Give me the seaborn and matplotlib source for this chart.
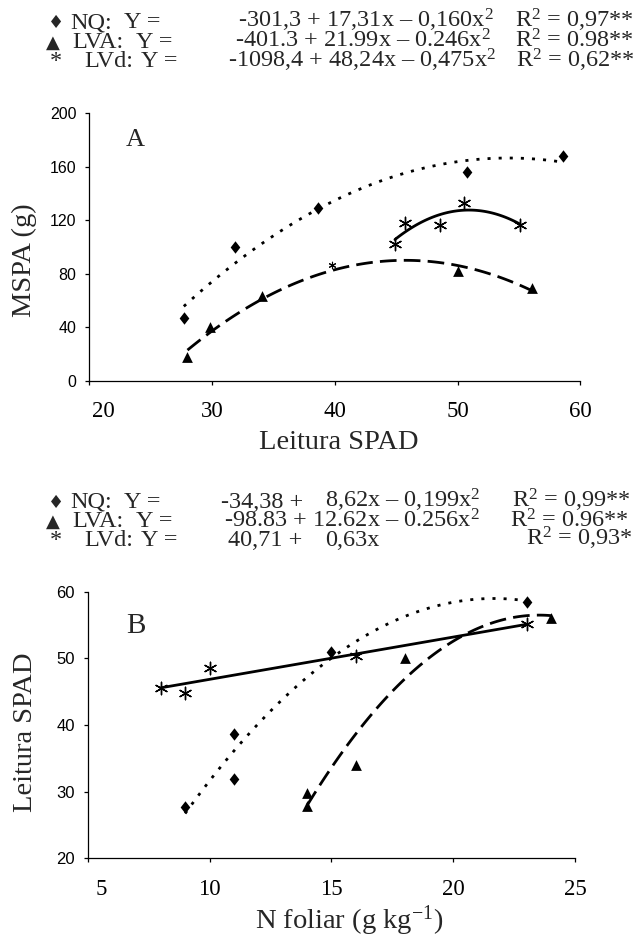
import numpy as np
import pandas as pd
import matplotlib
matplotlib.use("Agg")
import matplotlib.pyplot as plt
import matplotlib.transforms as mtrans
import seaborn as sns

sns.set_theme(style="ticks")
plt.rcParams["font.family"] = ["Liberation Serif", "DejaVu Sans"]
plt.rcParams["mathtext.fontset"] = "custom"
plt.rcParams["mathtext.rm"] = "Liberation Serif"
plt.rcParams["mathtext.it"] = "Liberation Serif:italic"

# ---------------- data ----------------
# Panel A: MSPA (g) vs Leitura SPAD
a_nq_x = [27.7, 31.9, 38.6, 50.8, 58.6]
a_nq_y = [47.0, 100.0, 129.5, 156.0, 168.0]
a_lva_x = [28.0, 29.8, 34.1, 50.0, 56.1]
a_lva_y = [18.0, 40.5, 63.5, 82.5, 69.5]
a_lvd_x = [44.9, 45.7, 48.6, 50.5, 55.1]
a_lvd_y = [102.0, 118.0, 116.5, 133.0, 116.5]
a_small_x = [39.8]
a_small_y = [86.8]

# Panel B: Leitura SPAD vs N foliar
b_nq_x = [9, 11, 11, 15, 23]
b_nq_y = [27.7, 38.6, 31.9, 50.9, 58.5]
b_lva_x = [14, 14, 16, 18, 24]
b_lva_y = [29.8, 27.9, 34.0, 50.0, 56.1]
b_lvd_x = [8, 9, 10, 16, 23]
b_lvd_y = [45.5, 44.8, 48.6, 50.4, 55.1]

a_xticks = [20, 30, 40, 50, 60]
a_yticks = [0, 40, 80, 120, 160, 200]
b_xticks = [5, 10, 15, 20, 25]
b_yticks = [20, 30, 40, 50, 60]

SQ = "$^{\\mathregular{2}}$"
eq_top = [
    ("\u2666", "NQ:", "Y =", "-301,3 + 17,31x \u2013 0,160x" + SQ, "R" + SQ + " = 0,97**"),
    ("\u25B2", "LVA:", "Y =", "-401.3 + 21.99x \u2013 0.246x" + SQ, "R" + SQ + " = 0.98**"),
    ("*", "LVd:", "Y =", "-1098,4 + 48,24x \u2013 0,475x" + SQ, "R" + SQ + " = 0,62**"),
]
eq_bot = [
    ("\u2666", "NQ:", "Y =", "-34,38 +", "8,62x \u2013 0,199x" + SQ, "R" + SQ + " = 0,99**"),
    ("\u25B2", "LVA:", "Y =", "", "-98.83 + 12.62x \u2013 0.256x" + SQ, "R" + SQ + " = 0.96**"),
    ("*", "LVd:", "Y =", "40,71 +", "0,63x", "R" + SQ + " = 0,93*"),
]

# ---------------- figure ----------------
W, H = 639, 939
fig = plt.figure(figsize=(W / 100, H / 100), dpi=100)
fig.patch.set_facecolor("white")
renderer = fig.canvas.get_renderer()


def fx(px):
    return px / W


def fy(py):
    return 1 - py / H


axA = fig.add_axes([fx(89.3), fy(381), (580.3 - 89.3) / W, (381 - 113.3) / H])
axB = fig.add_axes([fx(87.6), fy(858.3), (575.3 - 87.6) / W, (858.3 - 591.7) / H])

diamond = [(0, 1), (0.78, 0), (0, -1), (-0.78, 0), (0, 1)]
asterisk = (6, 2, 0)
lw_fit = 2.0
dot_style = (0, (1.1, 2.9))
dash_style = (0, (6.0, 2.6))


def draw_panel(ax, nq, lva, lvd, order_lvd):
    sns.regplot(x=nq[0], y=nq[1], order=2, ci=None, scatter=False, truncate=True, ax=ax,
                line_kws=dict(color="black", lw=lw_fit, linestyle=dot_style, dash_capstyle="butt"))
    sns.regplot(x=lva[0], y=lva[1], order=2, ci=None, scatter=False, truncate=True, ax=ax,
                line_kws=dict(color="black", lw=lw_fit, linestyle=dash_style, dash_capstyle="butt"))
    sns.regplot(x=lvd[0], y=lvd[1], order=order_lvd, ci=None, scatter=False, truncate=True, ax=ax,
                line_kws=dict(color="black", lw=lw_fit, linestyle="-"))
    sns.scatterplot(x=nq[0], y=nq[1], marker=diamond, s=80, color="black", edgecolor="black",
                    linewidth=0, ax=ax, zorder=5)
    sns.scatterplot(x=lva[0], y=lva[1], marker="^", s=60, color="black", edgecolor="black",
                    linewidth=0, ax=ax, zorder=5)
    sns.scatterplot(x=lvd[0], y=lvd[1], marker=asterisk, s=80, color="black",
                    linewidth=1.0, ax=ax, zorder=5)


draw_panel(axA, (a_nq_x, a_nq_y), (a_lva_x, a_lva_y), (a_lvd_x, a_lvd_y), 2)
sns.scatterplot(x=a_small_x, y=a_small_y, marker=asterisk, s=22, color="black",
                linewidth=0.8, ax=axA, zorder=5)
draw_panel(axB, (b_nq_x, b_nq_y), (b_lva_x, b_lva_y), (b_lvd_x, b_lvd_y), 1)

for ax, xt, yt, ysize in [(axA, a_xticks, a_yticks, 11.5), (axB, b_xticks, b_yticks, 12)]:
    ax.set_xlim(xt[0], xt[-1])
    ax.set_ylim(yt[0], yt[-1])
    ax.set_xticks(xt)
    ax.set_yticks(yt)
    ax.set_xlabel("")
    ax.set_ylabel("")
    ax.set_facecolor("white")
    for s in ["top", "right"]:
        ax.spines[s].set_visible(False)
    for s in ["left", "bottom"]:
        ax.spines[s].set_color("black")
        ax.spines[s].set_linewidth(0.9)
    ax.tick_params(axis="both", direction="out", length=3.2, width=0.9, color="black")
    ax.tick_params(axis="x", pad=11.5, labelsize=16.5, labelcolor="black")
    ax.tick_params(axis="y", pad=6.0, labelcolor="black")
    for lab in ax.get_yticklabels():
        lab.set_fontfamily("Liberation Sans")
        lab.set_fontsize(ysize)
    ax.set_xticklabels([str(v) for v in xt])
    first = ax.get_xticklabels()[0]
    first.set_transform(first.get_transform() + mtrans.ScaledTranslation(0.14, 0, fig.dpi_scale_trans))
    ax.grid(False)

# panel letters
fig.text(fx(126), fy(146), "A", fontsize=19, ha="left", va="baseline")
fig.text(fx(126), fy(633), "B", fontsize=21, ha="left", va="baseline")

# axis titles
fig.text(fx(24), fy(260), "MSPA (g)", fontsize=20.5, rotation=90, ha="center", va="center")
fig.text(fx(339), fy(449), "Leitura SPAD", fontsize=20.5, ha="center", va="baseline")
fig.text(fx(26), fy(732), "Leitura SPAD", fontsize=20.5, rotation=90, ha="center", va="center")
fig.text(fx(349), fy(928.5), "N foliar (g kg$^{\\mathregular{-1}}$)", fontsize=20.5, ha="center", va="baseline")

# equations
fs_eq = 17.5


def put(x, y, s, ha="left", **kw):
    return fig.text(fx(x), fy(y), s, fontsize=kw.pop("fontsize", fs_eq), ha=ha, va="baseline", **kw)


def sym_text(x, y, sym):
    if sym == "*":
        put(x + 2, y, sym)
    else:
        put(x, y, sym, fontsize=13, family=["DejaVu Sans"])


top_base = [28, 47.5, 67]
# (symbol x, name x, "Y =" x, equation right edge, R2 x)
top_x = [(48, 70, 124, 494, 515), (46, 72, 136, 491, 515), (48, 84, 141, 496, 516)]
for row, yb, xs in zip(eq_top, top_base, top_x):
    sym, name, yeq, eq, r2 = row
    sym_text(xs[0], yb, sym)
    put(xs[1], yb, name)
    put(xs[2], yb, yeq)
    put(xs[3], yb, eq, ha="right")
    put(xs[4], yb, r2)

bot_base = [508, 527, 546]
bot_names = [(48, 70, 124), (46, 72, 136), (48, 84, 141)]
bot_r2 = [512, 510, 526]
eq_right = 480
gap = 22

# line 1: right part ends at eq_right, the constant sits before it
t = put(eq_right, bot_base[0], eq_bot[0][4], ha="right")
left_mid = t.get_window_extent(renderer=renderer).x0
put(left_mid - gap, bot_base[0], eq_bot[0][3], ha="right")
# line 2: the whole equation ends at eq_right
put(eq_right, bot_base[1], eq_bot[1][4], ha="right")
# line 3: aligned under line 1
put(left_mid - gap, bot_base[2], eq_bot[2][3], ha="right")
put(left_mid, bot_base[2], eq_bot[2][4])

for row, yb, xs, r2x in zip(eq_bot, bot_base, bot_names, bot_r2):
    sym_text(xs[0], yb, row[0])
    put(xs[1], yb, row[1])
    put(xs[2], yb, row[2])
    put(r2x, yb, row[5])

fig.savefig("out.png", dpi=100, facecolor="white")
